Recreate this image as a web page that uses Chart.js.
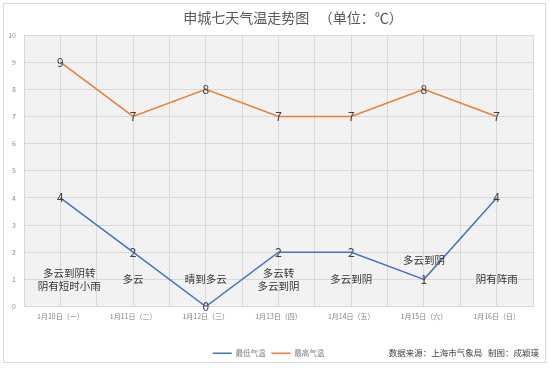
<!DOCTYPE html>
<html>
<head>
<meta charset="utf-8">
<script src="https://cdn.jsdelivr.net/npm/chart.js@4/dist/chart.umd.min.js"></script>
<style>
    body { margin: 0; background: #fff; }
    #wrap { width: 550px; height: 368px; }
</style>
</head>
<body>
<div id="wrap"><canvas id="grafico" width="550" height="368"></canvas></div>
<script>
const dias = ['1月10日（一）', '1月11日（二）', '1月12日（三）', '1月13日（四）', '1月14日（五）', '1月15日（六）', '1月16日（日）'];
const minima = [4, 2, 0, 2, 2, 1, 4];
const maxima = [9, 7, 8, 7, 7, 8, 7];
const tempo = [['多云到阴转', '阴有短时小雨'], ['多云'], ['晴到多云'], ['多云转', '多云到阴'], ['多云到阴'], ['多云到阴'], ['阴有阵雨']];
const yTicks = [0, 1, 2, 3, 4, 5, 6, 7, 8, 9, 10];

const titulo = '申城七天气温走势图   （单位：℃）';
const fonte = '数据来源：上海市气象局   制图：成颖瑛';
const cjk = '"Noto Sans CJK SC", "Noto Sans", sans-serif';

const ctx = document.getElementById('grafico').getContext('2d');

// padrao de fundo da area do grafico
const pc = document.createElement('canvas');
pc.width = 4; pc.height = 4;
const pctx = pc.getContext('2d');
pctx.fillStyle = '#f4f4f4';
pctx.fillRect(0, 0, 4, 4);
pctx.fillStyle = '#ececec';
pctx.fillRect(0, 3, 1, 1);
pctx.fillRect(1, 2, 1, 1);
pctx.fillRect(2, 1, 1, 1);
pctx.fillRect(3, 0, 1, 1);
const fundo = ctx.createPattern(pc, 'repeat');

const extras = {
    id: 'extras',
    beforeDraw(chart) {
        const c = chart.ctx;
        const a = chart.chartArea;
        c.save();
        c.fillStyle = '#fff';
        c.fillRect(0, 0, chart.width, chart.height);
        c.strokeStyle = '#d9d9d9';
        c.lineWidth = 1;
        c.strokeRect(3.5, 3.5, 542, 359);
        c.fillStyle = fundo;
        c.fillRect(a.left, a.top, a.right - a.left, a.bottom - a.top);
        c.restore();
    },
    afterDatasetsDraw(chart) {
        const c = chart.ctx;
        const xs = chart.scales.x;
        const ys = chart.scales.y;
        c.save();
        c.textAlign = 'center';
        c.textBaseline = 'middle';

        // valores nos pontos
        c.font = '12px ' + cjk;
        c.fillStyle = '#404040';
        chart.data.datasets.forEach((ds, i) => {
            chart.getDatasetMeta(i).data.forEach((p, j) => {
                c.fillText(String(ds.data[j].y), p.x, p.y);
            });
        });

        // descricao do tempo
        c.font = '10.5px ' + cjk;
        c.fillStyle = '#333';
        tempo.forEach((linhas, i) => {
            const yv = minima[i] === 1 ? 1.7 : 1;
            const y0 = ys.getPixelForValue(yv) - (linhas.length - 1) * 6.5;
            const x = xs.getPixelForValue(i) + (i === 0 ? 9 : 0);
            linhas.forEach((t, k) => c.fillText(t, x, y0 + k * 13));
        });

        // titulo e fonte
        c.font = '14px ' + cjk;
        c.fillStyle = '#595959';
        c.fillText(titulo, 293, 18);
        c.font = '8.5px ' + cjk;
        c.fillStyle = '#404040';
        c.textAlign = 'right';
        c.fillText(fonte, 539, 353);
        c.restore();
    }
};

new Chart(ctx, {
    type: 'line',
    data: {
        datasets: [
            {
                label: '最低气温',
                data: minima.map((v, i) => ({ x: i, y: v })),
                borderColor: '#4472c4',
                backgroundColor: '#4472c4',
                borderWidth: 1.5,
                pointRadius: 0
            },
            {
                label: '最高气温',
                data: maxima.map((v, i) => ({ x: i, y: v })),
                borderColor: '#ed7d31',
                backgroundColor: '#ed7d31',
                borderWidth: 1.5,
                pointRadius: 0
            }
        ]
    },
    options: {
        responsive: false,
        animation: false,
        layout: { padding: { left: 4, right: 17, top: 35, bottom: 1 } },
        plugins: {
            legend: {
                position: 'bottom',
                labels: {
                    usePointStyle: true,
                    pointStyle: 'line',
                    pointStyleWidth: 19,
                    padding: 6,
                    color: '#7f7f7f',
                    font: { size: 7.5, family: cjk }
                }
            },
            tooltip: { enabled: false }
        },
        scales: {
            x: {
                type: 'linear',
                min: -0.5,
                max: dias.length - 0.5,
                afterBuildTicks(scale) {
                    const t = [];
                    for (let v = -0.5; v <= dias.length - 0.5; v += 0.5) t.push({ value: v });
                    scale.ticks = t;
                },
                afterFit(scale) { scale.height = 37; },
                ticks: {
                    autoSkip: false,
                    maxRotation: 0,
                    padding: 6,
                    color: '#7f7f7f',
                    font: { size: 7, family: cjk },
                    callback: v => Number.isInteger(v) ? dias[v] : ''
                },
                grid: { color: '#d9d9d9', drawTicks: false },
                border: { display: false }
            },
            y: {
                min: 0,
                max: 10,
                afterBuildTicks(scale) {
                    scale.ticks = yTicks.map(v => ({ value: v }));
                },
                afterFit(scale) { scale.width = 20; },
                ticks: {
                    color: '#8c8c8c',
                    font: { size: 7, family: cjk },
                    padding: 8
                },
                grid: { color: '#d9d9d9', drawTicks: false },
                border: { display: false }
            }
        }
    },
    plugins: [extras]
});
</script>
</body>
</html>
